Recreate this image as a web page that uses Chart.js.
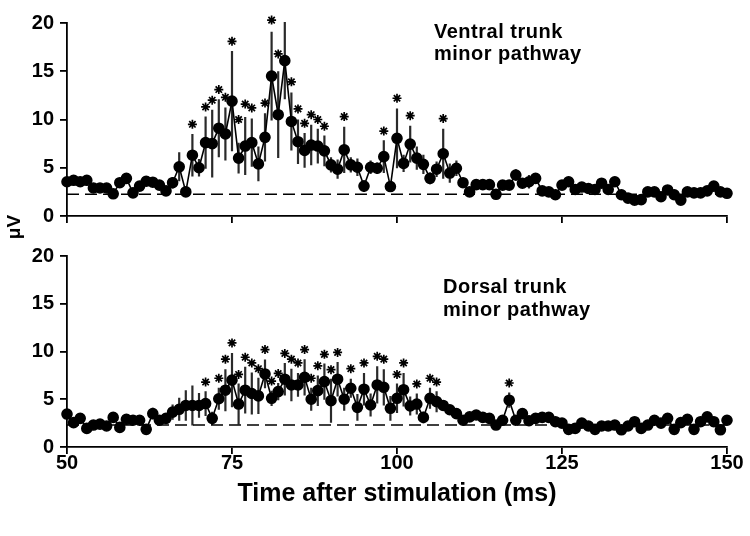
<!DOCTYPE html>
<html>
<head>
<meta charset="utf-8">
<script src="https://cdn.jsdelivr.net/npm/chart.js@4.4.1/dist/chart.umd.min.js"></script>
<style>
  body { margin: 0; background: #fff; }
  #wrap { position: relative; width: 750px; height: 536px; background: #fff; overflow: hidden; }
  canvas { position: absolute; left: 0; }
  .lbl { position: absolute; font-family: 'Liberation Sans', Arial, sans-serif; font-weight: bold; color: #000; font-size: 20px; line-height: 22px; letter-spacing: 0.5px; white-space: nowrap; }
  #ylab { position: absolute; left: -6px; top: 216px; width: 40px; height: 22px; line-height: 22px; text-align: center;
          font-family: 'Liberation Sans', Arial, sans-serif; font-weight: bold; font-size: 19px; transform: rotate(-90deg); }
</style>
</head>
<body>
<div id="wrap">
  <canvas id="topChart" width="750" height="236" style="top:0"></canvas>
  <canvas id="bottomChart" width="750" height="300" style="top:236px"></canvas>
  <div class="lbl" style="left:434px; top:20px;">Ventral trunk<br>minor pathway</div>
  <div class="lbl" style="left:443px; top:275px; line-height:23px;">Dorsal trunk<br>minor pathway</div>
  <div id="ylab">μV</div>
</div>
<script>
// Datos
const ms = [
  50, 51, 52, 53, 54, 55, 56, 57, 58, 59,
  60, 61, 62, 63, 64, 65, 66, 67, 68, 69,
  70, 71, 72, 73, 74, 75, 76, 77, 78, 79,
  80, 81, 82, 83, 84, 85, 86, 87, 88, 89,
  90, 91, 92, 93, 94, 95, 96, 97, 98, 99,
  100, 101, 102, 103, 104, 105, 106, 107, 108, 109,
  110, 111, 112, 113, 114, 115, 116, 117, 118, 119,
  120, 121, 122, 123, 124, 125, 126, 127, 128, 129,
  130, 131, 132, 133, 134, 135, 136, 137, 138, 139,
  140, 141, 142, 143, 144, 145, 146, 147, 148, 149,
  150
];
const xTicks = [50, 75, 100, 125, 150];
const yTicks = [0, 5, 10, 15, 20];

// Ventral trunk minor pathway
const ventralMean = [
  3.55, 3.7, 3.55, 3.7, 2.9, 2.9, 2.9, 2.3, 3.45, 3.9,
  2.4, 3.1, 3.6, 3.5, 3.2, 2.6, 3.45, 5.1, 2.5, 6.3,
  5.0, 7.6, 7.5, 9.1, 8.5, 11.9, 6.0, 7.25, 7.6, 5.4,
  8.15, 14.5, 10.5, 16.1, 9.8, 7.7, 6.8, 7.35, 7.25, 6.75,
  5.3, 4.85, 6.85, 5.3, 5.05, 3.1, 5.05, 4.95, 6.15, 3.05,
  8.05, 5.45, 7.45, 6.0, 5.35, 3.9, 4.85, 6.45, 4.45, 4.95,
  3.45, 2.5, 3.25, 3.25, 3.25, 2.25, 3.2, 3.2, 4.25, 3.4,
  3.55, 3.9, 2.6, 2.5, 2.2, 3.2, 3.55, 2.75, 3.0, 2.85,
  2.75, 3.4, 2.75, 3.55, 2.2, 1.85, 1.65, 1.7, 2.5, 2.5,
  2.0, 2.7, 2.2, 1.65, 2.5, 2.4, 2.4, 2.6, 3.1, 2.5,
  2.35
];
const ventralErr = [
  0.4, 0.5, 0.4, 0.5, 0.3, 0.3, 0.3, 0.3, 0.4, 0.5,
  0.3, 0.4, 0.5, 0.4, 0.3, 0.3, 0.6, 1.5, 0.5, 2.2,
  0.9, 2.7, 3.5, 3.0, 2.75, 5.2, 1.6, 3.0, 2.5, 1.8,
  2.5, 4.6, 4.5, 4.0, 3.0, 2.3, 1.8, 2.1, 1.8, 1.6,
  0.8, 1.0, 2.4, 0.8, 0.9, 0.6, 0.7, 0.6, 1.7, 0.5,
  3.1, 0.9, 1.9, 1.2, 1.0, 0.6, 0.8, 2.6, 1.0, 0.8,
  0.5, 0.3, 0.3, 0.3, 0.3, 0.3, 0.4, 0.4, 0.6, 0.5,
  0.7, 0.5, 0.3, 0.3, 0.3, 0.4, 0.4, 0.3, 0.3, 0.3,
  0.3, 0.4, 0.3, 0.4, 0.3, 0.3, 0.3, 0.3, 0.3, 0.3,
  0.3, 0.3, 0.3, 0.3, 0.3, 0.3, 0.3, 0.3, 0.3, 0.3,
  0.3
];
const ventralStarMs = [69, 71, 72, 73, 74, 75, 76, 77, 78, 80, 81, 82, 83, 84, 85, 86, 87, 88, 89, 92, 98, 100, 102, 107];
const ventralStarVal = [9.5, 11.3, 12.0, 13.1, 12.3, 18.1, 10.0, 11.6, 11.2, 11.7, 20.3, 16.8, 21.0, 13.9, 11.1, 9.6, 10.5, 10.0, 9.3, 10.3, 8.8, 12.2, 10.4, 10.1];
const ventralBaseline = 2.25;

// Dorsal trunk minor pathway
const dorsalMean = [
  3.45, 2.55, 3.0, 1.95, 2.3, 2.4, 2.2, 3.1, 2.05, 2.9,
  2.8, 2.8, 1.85, 3.5, 2.8, 3.0, 3.65, 3.95, 4.35, 4.35,
  4.35, 4.55, 3.0, 5.05, 5.95, 7.0, 4.5, 5.95, 5.6, 5.35,
  7.65, 5.1, 5.8, 7.1, 6.5, 6.5, 7.3, 5.0, 5.9, 6.85,
  4.85, 7.1, 5.0, 6.15, 4.15, 6.05, 4.4, 6.5, 6.25, 4.05,
  5.1, 6.0, 4.3, 4.5, 3.1, 5.1, 4.75, 4.35, 3.9, 3.5,
  2.8, 3.15, 3.35, 3.1, 3.0, 2.3, 2.8, 4.9, 2.8, 3.5,
  2.75, 3.0, 3.1, 3.1, 2.65, 2.5, 1.85, 1.95, 2.5, 2.2,
  1.85, 2.2, 2.2, 2.3, 1.8, 2.2, 2.65, 1.95, 2.3, 2.8,
  2.5, 3.0, 1.85, 2.55, 2.9, 1.85, 2.65, 3.15, 2.65, 1.8,
  2.8
];
const dorsalErr = [
  0.4, 0.4, 0.5, 0.3, 0.3, 0.3, 0.3, 0.4, 0.3, 0.3,
  0.3, 0.3, 0.3, 0.6, 0.4, 0.4, 0.8, 1.2, 1.6, 2.1,
  1.3, 1.3, 0.7, 1.15, 2.2, 2.85, 2.15, 2.45, 2.2, 1.9,
  1.5, 0.8, 0.9, 1.7, 1.7, 1.25, 1.9, 1.2, 1.6, 1.9,
  2.3, 1.8, 1.2, 1.0, 1.4, 1.7, 1.2, 1.95, 1.9, 1.3,
  1.55, 1.75, 1.0, 1.1, 0.6, 1.1, 1.1, 0.4, 0.4, 0.4,
  0.3, 0.3, 0.3, 0.3, 0.3, 0.3, 0.3, 0.8, 0.4, 0.3,
  0.3, 0.3, 0.3, 0.3, 0.3, 0.3, 0.3, 0.3, 0.3, 0.3,
  0.3, 0.3, 0.3, 0.3, 0.3, 0.3, 0.3, 0.3, 0.3, 0.3,
  0.3, 0.3, 0.3, 0.3, 0.3, 0.3, 0.3, 0.3, 0.3, 0.3,
  0.3
];
const dorsalStarMs = [71, 73, 74, 75, 76, 77, 78, 79, 80, 81, 82, 83, 84, 85, 86, 87, 88, 89, 90, 91, 93, 95, 97, 98, 100, 101, 103, 105, 106, 117];
const dorsalStarVal = [6.8, 7.2, 9.2, 10.9, 7.6, 9.4, 8.8, 8.2, 10.2, 6.9, 7.7, 9.8, 9.2, 8.8, 10.2, 7.2, 8.5, 9.7, 8.1, 9.9, 8.2, 8.8, 9.5, 9.2, 7.6, 8.8, 6.6, 7.2, 6.8, 6.7];
const dorsalBaseline = 2.3;

const FONT = "'Liberation Sans', Arial, sans-serif";

// barras de error verticales (media ± error)
const errorBars = {
    id: 'errorBars',
    beforeDatasetsDraw(chart) {
        const ctx = chart.ctx;
        const x = chart.scales.x, y = chart.scales.y;
        chart.data.datasets.forEach(ds => {
            if (!ds.errors) return;
            ctx.save();
            ctx.strokeStyle = '#2a2a2a';
            ctx.lineWidth = 2.2;
            ctx.beginPath();
            ds.data.forEach((p, i) => {
                const px = x.getPixelForValue(p.x);
                ctx.moveTo(px, y.getPixelForValue(p.y - ds.errors[i]));
                ctx.lineTo(px, y.getPixelForValue(p.y + ds.errors[i]));
            });
            ctx.stroke();
            ctx.restore();
        });
    }
};

function makePanel(id, mean, err, starMs, starVal, baseline, bottom) {
    const ctx = document.getElementById(id).getContext('2d');
    return new Chart(ctx, {
        type: 'line',
        data: {
            datasets: [{
                data: [{ x: xTicks[0], y: baseline }, { x: xTicks[xTicks.length - 1], y: baseline }],
                borderColor: '#000',
                borderWidth: 1.5,
                borderDash: [12, 6],
                pointRadius: 0
            }, {
                data: ms.map((t, i) => ({ x: t, y: mean[i] })),
                errors: err,
                borderColor: '#000',
                borderWidth: 1.6,
                pointRadius: 5,
                pointBackgroundColor: '#000',
                pointBorderColor: '#000',
                clip: false
            }, {
                data: starMs.map((t, i) => ({ x: t, y: starVal[i] })),
                showLine: false,
                pointStyle: 'star',
                pointRadius: 4.5,
                pointBorderWidth: 1.7,
                pointBorderColor: '#000',
                clip: false
            }]
        },
        options: {
            responsive: false,
            animation: false,
            devicePixelRatio: 1,
            layout: {
                padding: bottom ? { top: 20, right: 23, left: 0, bottom: 0 } : { top: 23, right: 23, left: 0, bottom: 0 }
            },
            plugins: {
                legend: { display: false },
                tooltip: { enabled: false }
            },
            scales: {
                x: {
                    type: 'linear',
                    min: 50,
                    max: 150,
                    afterBuildTicks: s => { s.ticks = xTicks.map(v => ({ value: v })); },
                    afterFit: s => { s.height = bottom ? 89 : 20; },
                    ticks: {
                        display: bottom,
                        color: '#000',
                        padding: 0,
                        font: { family: FONT, size: 20, weight: 'bold', lineHeight: 0.9 }
                    },
                    grid: { drawOnChartArea: false, drawTicks: true, tickLength: 7, color: '#000', lineWidth: 1.8 },
                    border: { color: '#000', width: 1.8 },
                    title: {
                        display: bottom,
                        text: 'Time after stimulation (ms)',
                        color: '#000',
                        padding: { top: 0, bottom: 27 },
                        font: { family: FONT, size: 25, weight: 'bold', lineHeight: 1.2 }
                    }
                },
                y: {
                    min: 0,
                    max: 20,
                    afterBuildTicks: s => { s.ticks = yTicks.map(v => ({ value: v })); },
                    afterFit: s => { s.width = 67; },
                    ticks: {
                        color: '#000',
                        padding: 6,
                        font: { family: FONT, size: 20, weight: 'bold' }
                    },
                    grid: { drawOnChartArea: false, drawTicks: true, tickLength: 7, color: '#000', lineWidth: 1.8 },
                    border: { color: '#000', width: 1.8 }
                }
            }
        },
        plugins: [errorBars]
    });
}

makePanel('topChart', ventralMean, ventralErr, ventralStarMs, ventralStarVal, ventralBaseline, false);
makePanel('bottomChart', dorsalMean, dorsalErr, dorsalStarMs, dorsalStarVal, dorsalBaseline, true);
</script>
</body>
</html>
